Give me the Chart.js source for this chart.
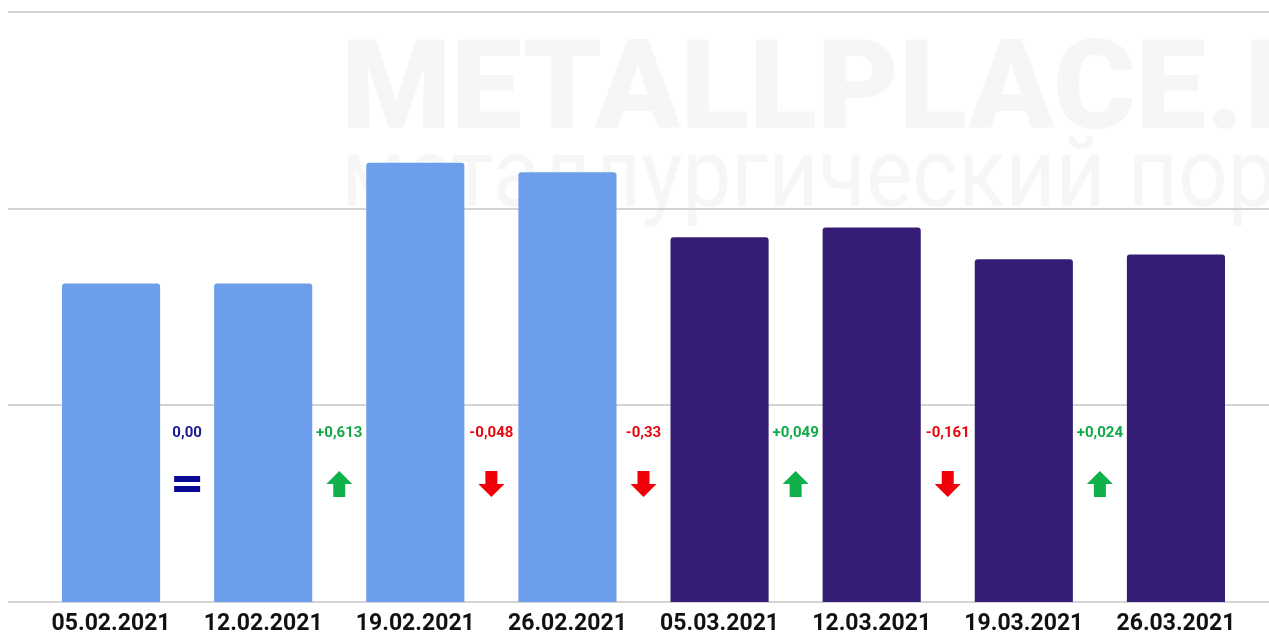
<!DOCTYPE html>
<html>
<head>
<meta charset="utf-8">
<script src="https://cdn.jsdelivr.net/npm/chart.js@4"></script>
<style>
  html, body { margin: 0; padding: 0; background: #fff; }
  #wrap { width: 1269px; height: 635px; position: relative; }
</style>
</head>
<body>
<div id="wrap"><canvas id="mainChart"></canvas></div>
<script>
// données
const dates = ['05.02.2021', '12.02.2021', '19.02.2021', '26.02.2021', '05.03.2021', '12.03.2021', '19.03.2021', '26.03.2021'];
const prix = [1.62, 1.62, 2.233, 2.185, 1.855, 1.904, 1.743, 1.767];
const couleurs = ['#6d9eeb', '#6d9eeb', '#6d9eeb', '#6d9eeb', '#351c75', '#351c75', '#351c75', '#351c75'];
const ecarts = ['0,00', '+0,613', '-0,048', '-0,33', '+0,049', '-0,161', '+0,024'];
const sens = ['eq', 'up', 'down', 'down', 'up', 'down', 'up'];
const yTicks = [0, 1, 2, 3];

const teintes = { eq: '#1a1a8f', up: '#14a84a', down: '#e8070e' };

// filigrane étiré (texte condensé)
function filigrane(c, txt, mesure, font, x, y, largeur) {
    c.font = font;
    const sx = largeur / c.measureText(mesure).width;
    c.save();
    c.translate(x, y);
    c.scale(sx, 1);
    c.fillText(txt, 0, 0);
    c.restore();
}

// filigrane + grille pleine largeur
const fondPlugin = {
    id: 'fond',
    beforeDraw(chart) {
        const c = chart.ctx, y = chart.scales.y;
        c.save();
        c.fillStyle = '#f6f6f6';
        c.textBaseline = 'alphabetic';
        filigrane(c, 'METALLPLACE.RU', 'METALLPLACE.', '900 125px Roboto', 341, 128, 903);
        filigrane(c, 'металлургический портал', 'металлургический', '400 97px Roboto', 341, 206, 765);
        c.strokeStyle = '#d4d4d4';
        c.lineWidth = 2;
        yTicks.forEach(v => {
            const py = Math.round(y.getPixelForValue(v));
            c.beginPath();
            c.moveTo(8, py);
            c.lineTo(chart.width, py);
            c.stroke();
        });
        c.restore();
    }
};

// écarts entre barres
const ecartPlugin = {
    id: 'ecarts',
    afterDatasetsDraw(chart) {
        const c = chart.ctx, x = chart.scales.x, y = chart.scales.y;
        c.save();
        c.textAlign = 'center';
        c.textBaseline = 'middle';
        ecarts.forEach((txt, i) => {
            const px = (x.getPixelForValue(i) + x.getPixelForValue(i + 1)) / 2;
            c.fillStyle = teintes[sens[i]];
            c.font = 'bold 15px Roboto';
            c.fillText(txt, px, y.getPixelForValue(0.857));
            const ay = y.getPixelForValue(0.6);
            c.beginPath();
            if (sens[i] === 'eq') {
                c.fillStyle = '#0a0a96';
                c.fillRect(px - 13, ay - 8, 26, 6);
                c.fillRect(px - 13, ay + 2, 26, 6);
            } else {
                const d = sens[i] === 'up' ? -1 : 1;
                c.fillStyle = d < 0 ? '#10b04a' : '#f10009';
                c.moveTo(px, ay + d * 13);
                c.lineTo(px + 13, ay);
                c.lineTo(px + 6, ay);
                c.lineTo(px + 6, ay - d * 13);
                c.lineTo(px - 6, ay - d * 13);
                c.lineTo(px - 6, ay);
                c.lineTo(px - 13, ay);
                c.closePath();
                c.fill();
            }
        });
        c.restore();
    }
};

const ctx = document.getElementById('mainChart').getContext('2d');
new Chart(ctx, {
    type: 'bar',
    data: {
        labels: dates,
        datasets: [{
            data: prix,
            backgroundColor: couleurs,
            borderRadius: 3,
            borderSkipped: 'bottom',
            barPercentage: 0.645,
            categoryPercentage: 1
        }]
    },
    options: {
        responsive: true,
        maintainAspectRatio: false,
        animation: false,
        layout: { padding: { left: 35, right: 17, top: 12, bottom: -4 } },
        plugins: { legend: { display: false }, tooltip: { enabled: false } },
        scales: {
            x: {
                grid: { display: false },
                border: { display: false },
                ticks: { color: '#111', font: { family: 'Roboto', size: 23, weight: 'bold', lineHeight: 1 }, padding: 3, maxRotation: 0 }
            },
            y: {
                display: false,
                min: 0,
                max: 3
            }
        }
    },
    plugins: [fondPlugin, ecartPlugin]
});
</script>
</body>
</html>
